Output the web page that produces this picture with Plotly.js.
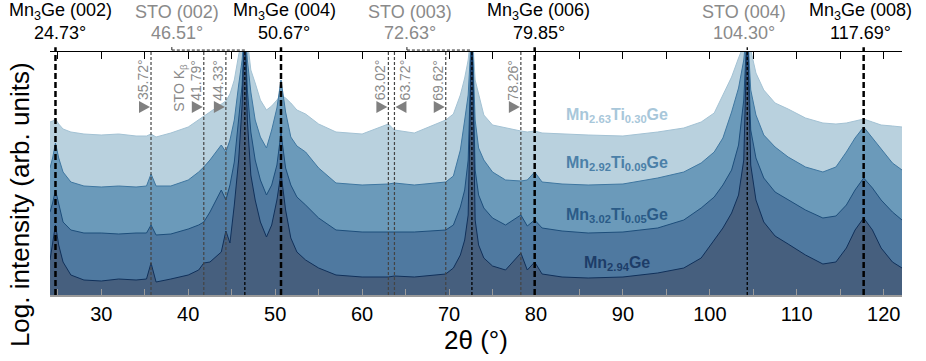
<!DOCTYPE html>
<html><head><meta charset="utf-8">
<script src="https://cdn.plot.ly/plotly-3.0.1.min.js"></script>
<style>html,body{margin:0;padding:0;background:#fff;} #chart{width:926px;height:361px;}</style>
</head><body><div id="chart"></div>
<script>
// 2θ sampling positions (degrees)
const twoTheta = [24.1, 24.4, 24.73, 25.1, 25.6, 26.5, 28, 30, 32, 34, 35.2, 35.72, 36.3, 38, 40, 41.2, 41.79, 42.5, 43.8, 44.33, 44.8, 45.3, 45.8, 46.2, 46.51, 46.8, 47.2, 47.7, 48.3, 49.0, 49.6, 50.2, 50.67, 51.2, 51.8, 52.5, 53.5, 55, 57, 60, 63.02, 63.72, 66, 69.62, 70.5, 71.3, 71.8, 72.2, 72.63, 73.0, 73.4, 74.0, 75.0, 76.5, 78.26, 79.0, 79.85, 80.7, 83, 86, 90, 94, 97, 99, 100.5, 101.5, 102.5, 103.3, 103.9, 104.3, 104.7, 105.3, 106.2, 107.5, 109, 111, 113, 114.5, 115.7, 116.7, 117.69, 118.7, 119.7, 121, 122.1];
// log intensity (arb. units, stacked offsets)
const mn263ti030 = [17.3, 17.4, 17.6, 17.1, 16.6, 16.3, 16.1, 16.0, 16.1, 15.9, 15.9, 16.1, 15.8, 16.2, 16.8, 17.5, 17.9, 18.3, 19.1, 19.4, 20.1, 21.5, 24.0, 25.5, 27.0, 25.5, 22.5, 21.2, 19.5, 18.5, 18.9, 19.5, 20.0, 19.7, 19.2, 18.5, 18.1, 17.1, 16.3, 16.1, 17.1, 16.5, 16.2, 17.5, 18.1, 20.0, 21.7, 23.5, 27.0, 21.5, 20.0, 18.0, 17.0, 16.7, 16.4, 16.3, 16.4, 16.2, 16.1, 16.0, 15.9, 16.3, 16.7, 17.3, 18.2, 20.0, 21.8, 23.7, 25.0, 27.0, 24.5, 22.2, 20.5, 19.2, 18.6, 17.7, 17.2, 17.1, 17.2, 17.4, 17.6, 17.3, 17.0, 16.9, 16.8];
const mn292ti009 = [12.7, 13.7, 15.2, 13.7, 12.3, 11.3, 10.9, 10.8, 10.9, 10.8, 10.9, 12.1, 10.9, 10.9, 11.5, 12.3, 12.8, 13.5, 15.0, 14.3, 15.5, 17.5, 21.0, 23.5, 27.0, 23.5, 20.3, 17.5, 15.8, 14.7, 16.5, 18.7, 21.5, 18.3, 15.8, 14.9, 14.3, 12.7, 11.2, 11.0, 11.1, 11.2, 11.0, 11.3, 11.9, 14.5, 17.5, 20.0, 27.0, 17.5, 14.7, 13.5, 12.3, 11.5, 11.4, 11.5, 12.3, 11.3, 11.1, 11.0, 11.1, 11.7, 12.3, 13.2, 14.3, 15.7, 18.3, 20.7, 23.5, 27.0, 20.5, 18.0, 16.0, 14.8, 13.8, 12.8, 12.3, 12.8, 14.3, 15.7, 16.8, 15.7, 14.5, 13.2, 12.5];
const mn302ti005 = [8.3, 9.2, 10.5, 9.0, 7.3, 6.5, 6.2, 6.2, 6.1, 6.2, 6.2, 7.0, 6.0, 6.1, 6.6, 7.0, 7.3, 8.3, 10.5, 9.5, 11.0, 13.3, 17.5, 21.0, 27.0, 20.5, 16.3, 13.5, 11.5, 10.0, 11.0, 13.0, 16.2, 12.7, 11.0, 9.8, 9.0, 7.7, 6.5, 6.3, 6.3, 6.3, 6.3, 6.5, 7.0, 8.8, 10.5, 13.5, 27.0, 12.5, 10.0, 8.7, 7.7, 7.0, 8.0, 6.9, 7.5, 6.7, 6.4, 6.2, 6.3, 6.7, 7.5, 8.7, 9.8, 11.0, 12.5, 15.0, 19.5, 27.0, 16.5, 13.7, 11.7, 10.3, 9.5, 8.5, 7.7, 7.9, 9.0, 10.5, 11.7, 10.7, 9.5, 8.3, 7.5];
const mn294 = [3.5, 5.0, 7.0, 5.0, 3.3, 2.0, 1.5, 1.4, 1.6, 1.5, 1.6, 3.2, 1.3, 1.6, 2.0, 2.5, 3.2, 3.3, 4.3, 6.4, 5.2, 9.0, 13.5, 19.0, 27.0, 17.5, 12.0, 9.5, 7.3, 5.8, 7.0, 9.5, 12.2, 8.5, 5.7, 4.3, 3.5, 2.7, 2.0, 1.8, 1.8, 1.9, 1.8, 2.1, 2.7, 4.0, 5.5, 8.0, 27.0, 7.5, 5.0, 3.7, 2.9, 2.5, 4.2, 2.5, 3.3, 2.1, 1.8, 1.7, 1.8, 2.2, 2.7, 3.7, 5.5, 6.7, 8.2, 10.0, 13.5, 27.0, 13.0, 9.5, 7.3, 5.9, 5.1, 4.0, 3.1, 3.3, 4.7, 6.5, 7.7, 6.5, 4.7, 3.3, 2.7];

const seriesNames = ['Mn<sub>2.63</sub>Ti<sub>0.30</sub>Ge', 'Mn<sub>2.92</sub>Ti<sub>0.09</sub>Ge', 'Mn<sub>3.02</sub>Ti<sub>0.05</sub>Ge', 'Mn<sub>2.94</sub>Ge'];
const mnPeakPos = [24.73, 50.67, 79.85, 117.69];
const mnPeakHkl = ['(002)', '(004)', '(006)', '(008)'];
const stoPeakPos = [46.51, 72.63, 104.30];
const stoPeakHkl = ['(002)', '(003)', '(004)'];
const minorPeakPos = [35.72, 41.79, 44.33, 63.02, 63.72, 69.62, 78.26];
const xTickVals = [30, 40, 50, 60, 70, 80, 90, 100, 110, 120];

// styling
const fills = ['#b9d1de', '#6b9aba', '#4f79a0', '#465f7e'];
const lineCols = ['#a3c2d4', '#3f77a1', '#1d4e7b', '#10305a'];
const labelCols = ['#a8c7da', '#4b80a8', '#2a5b87', '#1d3d68'];
const labelY = [18.0, 13.2, 8.0, 3.2];
const FONT = 'Liberation Sans, Arial, sans-serif';
const GRAY = '#8a8a8a';

const ys = [mn263ti030, mn292ti009, mn302ti005, mn294];
const traces = ys.map((y, i) => ({
  x: twoTheta, y: y, type: 'scatter', mode: 'lines', fill: 'tozeroy',
  fillcolor: fills[i], line: {color: lineCols[i], width: 1}, hoverinfo: 'skip', showlegend: false
}));
traces.push({x: xTickVals, y: xTickVals.map(() => null), xaxis: 'x2', yaxis: 'y', type: 'scatter', mode: 'lines', showlegend: false, hoverinfo: 'skip'});

const shapes = [];
mnPeakPos.forEach(p => shapes.push({type: 'line', xref: 'x', yref: 'paper', x0: p, x1: p, y0: 0, y1: 1.02, layer: 'above', line: {color: '#000', width: 2.5, dash: '6px,3px'}}));
stoPeakPos.forEach((p, i) => {
  const top = i < 2 ? 1.008 : 1.02;
  shapes.push({type: 'line', xref: 'x', yref: 'paper', x0: p, x1: p, y0: 0, y1: top, layer: 'above', line: {color: '#000', width: 1.3, dash: '3px,2px'}});
});
const bracketOff = [-73, -65];
bracketOff.forEach((o, i) => {
  shapes.push({type: 'line', xref: 'x', xsizemode: 'pixel', xanchor: stoPeakPos[i], yref: 'paper', x0: o, x1: 0, y0: 1.008, y1: 1.008, layer: 'above', line: {color: '#222', width: 1, dash: '3px,2px'}});
  shapes.push({type: 'line', xref: 'x', xsizemode: 'pixel', xanchor: stoPeakPos[i], yref: 'paper', x0: o, x1: o, y0: 1.008, y1: 1.022, layer: 'above', line: {color: '#222', width: 1, dash: '3px,2px'}});
});
minorPeakPos.forEach((p, i) => {
  shapes.push({type: 'line', xref: 'x', yref: 'paper', x0: p, x1: p, y0: 0, y1: 1.0, layer: 'above', line: {color: '#444', width: 1.2, dash: '3px,2px'}});
  const left = (p === 63.72) ? false : true;
  const path = left ? 'M -12 -6 L -1 0 L -12 6 Z' : 'M 12 -6 L 1 0 L 12 6 Z';
  shapes.push({type: 'path', xref: 'x', yref: 'paper', xsizemode: 'pixel', ysizemode: 'pixel', xanchor: p, yanchor: 0.774, path: path, fillcolor: '#808080', line: {width: 0}, layer: 'above'});
});

const annotations = [];
const mnShift = [5, 3, 4, -3];
mnPeakPos.forEach((p, i) => {
  annotations.push({x: p, xref: 'x', xshift: mnShift[i], y: 1.165, yref: 'paper', text: 'Mn<sub>3</sub>Ge ' + mnPeakHkl[i], showarrow: false, font: {family: FONT, size: 18, color: '#000'}, xanchor: 'center', yanchor: 'middle'});
  annotations.push({x: p, xref: 'x', xshift: mnShift[i], y: 1.078, yref: 'paper', text: p.toFixed(2) + '°', showarrow: false, font: {family: FONT, size: 18, color: '#000'}, xanchor: 'center', yanchor: 'middle'});
});
const stoShift = [-68, -62, -3];
stoPeakPos.forEach((p, i) => {
  annotations.push({x: p, xref: 'x', xshift: stoShift[i], y: 1.165, yref: 'paper', text: 'STO ' + stoPeakHkl[i], showarrow: false, font: {family: FONT, size: 18, color: GRAY}, xanchor: 'center', yanchor: 'middle'});
  annotations.push({x: p, xref: 'x', xshift: stoShift[i], y: 1.078, yref: 'paper', text: p.toFixed(2) + '°', showarrow: false, font: {family: FONT, size: 18, color: GRAY}, xanchor: 'center', yanchor: 'middle'});
});
minorPeakPos.forEach(p => {
  const sh = (p === 63.72) ? 10 : -8;
  annotations.push({x: p, xref: 'x', xshift: sh, y: 0.885, yref: 'paper', text: p.toFixed(2) + '°', textangle: -90, showarrow: false, font: {family: FONT, size: 14, color: GRAY}, xanchor: 'center', yanchor: 'middle'});
});
annotations.push({x: minorPeakPos[1], xref: 'x', xshift: -24, y: 0.852, yref: 'paper', text: 'STO K<sub>β</sub>', textangle: -90, showarrow: false, font: {family: FONT, size: 14, color: GRAY}, xanchor: 'center', yanchor: 'middle'});
seriesNames.forEach((n, i) => {
  annotations.push({x: 89.3, xref: 'x', y: labelY[i], yref: 'y', text: '<b>' + n + '</b>', showarrow: false, font: {family: FONT, size: 16, color: labelCols[i]}, xanchor: 'center', yanchor: 'middle'});
});
// y-axis title (placed to match the reference position)
annotations.push({x: 0, xref: 'paper', xshift: -30, y: 0.37, yref: 'paper', text: 'Log. intensity (arb. units)', textangle: -90, showarrow: false, font: {family: FONT, size: 26, color: '#000'}, xanchor: 'center', yanchor: 'middle'});

const layout = {
  width: 926, height: 361,
  margin: {l: 50, r: 24, t: 52, b: 66},
  paper_bgcolor: '#fff', plot_bgcolor: '#fff',
  showlegend: false,
  font: {family: FONT, color: '#000'},
  xaxis: {
    range: [24.1, 122.1], showgrid: false, zeroline: false,
    showline: true, linecolor: '#9a9a9a', linewidth: 2,
    ticks: 'inside', ticklen: 6, tickcolor: '#9a9a9a', tickwidth: 1,
    tickvals: xTickVals, ticktext: xTickVals.map(String),
    minor: {dtick: 5, tick0: 0, ticks: 'inside', ticklen: 6, tickcolor: '#9a9a9a'},
    tickfont: {family: FONT, size: 20, color: '#000'},
    title: {text: '2θ (°)', font: {family: FONT, size: 26, color: '#000'}, standoff: 6}
  },
  xaxis2: {
    overlaying: 'x', side: 'top', anchor: 'y', range: [24.1, 122.1],
    showgrid: false, zeroline: false, showline: true, linecolor: '#000', linewidth: 1,
    ticks: 'inside', ticklen: 7, tickcolor: '#000', dtick: 5, tick0: 0, showticklabels: false
  },
  yaxis: {
    range: [0, 24.3], showgrid: false, zeroline: false, showline: false,
    ticks: '', showticklabels: false,
    title: {text: ''}
  },
  shapes: shapes,
  annotations: annotations
};

Plotly.newPlot('chart', traces, layout, {staticPlot: true, displayModeBar: false});
</script>
</body></html>
